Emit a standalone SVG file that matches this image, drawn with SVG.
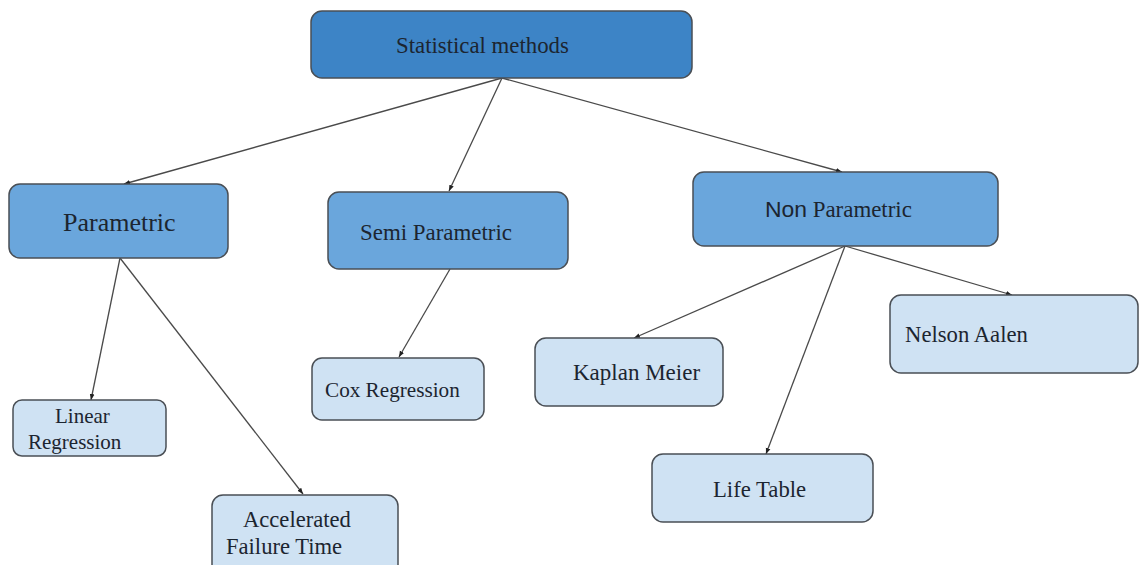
<svg xmlns="http://www.w3.org/2000/svg" width="1139" height="565" viewBox="0 0 1139 565">
<style>
.box{stroke:#4a4f55;stroke-width:1.5}
.l0{fill:#3d84c6}
.l1{fill:#6aa6dc}
.l2{fill:#cfe2f3}
text{font-family:"Liberation Serif","Times New Roman",serif;fill:#1c2530}
.sans{font-family:"Liberation Sans",Arial,sans-serif}
.edge{stroke:#4a4a4a;stroke-width:1.3;fill:none;marker-end:url(#ah)}
</style>
<defs>
<marker id="ah" viewBox="0 0 10 10" refX="10" refY="5" markerWidth="6" markerHeight="6" orient="auto" markerUnits="userSpaceOnUse">
<path d="M0,1 L10,5 L0,9 z" fill="#222"/>
</marker>
</defs>
<rect width="1139" height="565" fill="#ffffff"/>
<g id="connectors">
<line class="edge" x1="502" y1="78" x2="124" y2="184"/>
<line class="edge" x1="502" y1="78" x2="449" y2="191"/>
<line class="edge" x1="502" y1="78" x2="842" y2="172"/>
<line class="edge" x1="120" y1="258" x2="91" y2="400"/>
<line class="edge" x1="120" y1="258" x2="303" y2="494"/>
<line class="edge" x1="450" y1="269" x2="399" y2="357"/>
<line class="edge" x1="845" y1="246" x2="634" y2="338"/>
<line class="edge" x1="845" y1="246" x2="766" y2="454"/>
<line class="edge" x1="845" y1="246" x2="1012" y2="295"/>
</g>
<g id="statistical-methods">
<rect class="box l0" x="311" y="11" width="381" height="67" rx="11"/>
<text x="396" y="53" style="font-size:22.8px">Statistical methods</text>
</g>
<g id="parametric">
<rect class="box l1" x="9" y="184" width="219" height="74" rx="11"/>
<text x="63" y="231" style="font-size:26px">Parametric</text>
</g>
<g id="semi-parametric">
<rect class="box l1" x="328" y="192" width="240" height="77" rx="11"/>
<text x="360" y="240" style="font-size:22.9px">Semi Parametric</text>
</g>
<g id="non-parametric">
<rect class="box l1" x="693" y="172" width="305" height="74" rx="11"/>
<text x="765" y="217" style="font-size:22.9px"><tspan class="sans">Non</tspan> Parametric</text>
</g>
<g id="linear-regression">
<rect class="box l2" x="13" y="400" width="153" height="56" rx="9"/>
<text x="55" y="423" style="font-size:21px">Linear</text>
<text x="28" y="449" style="font-size:21px">Regression</text>
</g>
<g id="accelerated-failure-time">
<rect class="box l2" x="212" y="495" width="186" height="85" rx="11"/>
<text x="243" y="527" style="font-size:22.6px">Accelerated</text>
<text x="226" y="554" style="font-size:22.6px">Failure Time</text>
</g>
<g id="cox-regression">
<rect class="box l2" x="312" y="358" width="172" height="62" rx="10"/>
<text x="325" y="397" style="font-size:21.2px">Cox Regression</text>
</g>
<g id="kaplan-meier">
<rect class="box l2" x="535" y="338" width="188" height="68" rx="11"/>
<text x="573" y="380" style="font-size:23px">Kaplan Meier</text>
</g>
<g id="nelson-aalen">
<rect class="box l2" x="890" y="295" width="248" height="78" rx="11"/>
<text x="905" y="342" style="font-size:22.7px">Nelson Aalen</text>
</g>
<g id="life-table">
<rect class="box l2" x="652" y="454" width="221" height="68" rx="11"/>
<text x="713" y="497" style="font-size:22.7px">Life Table</text>
</g>
</svg>
